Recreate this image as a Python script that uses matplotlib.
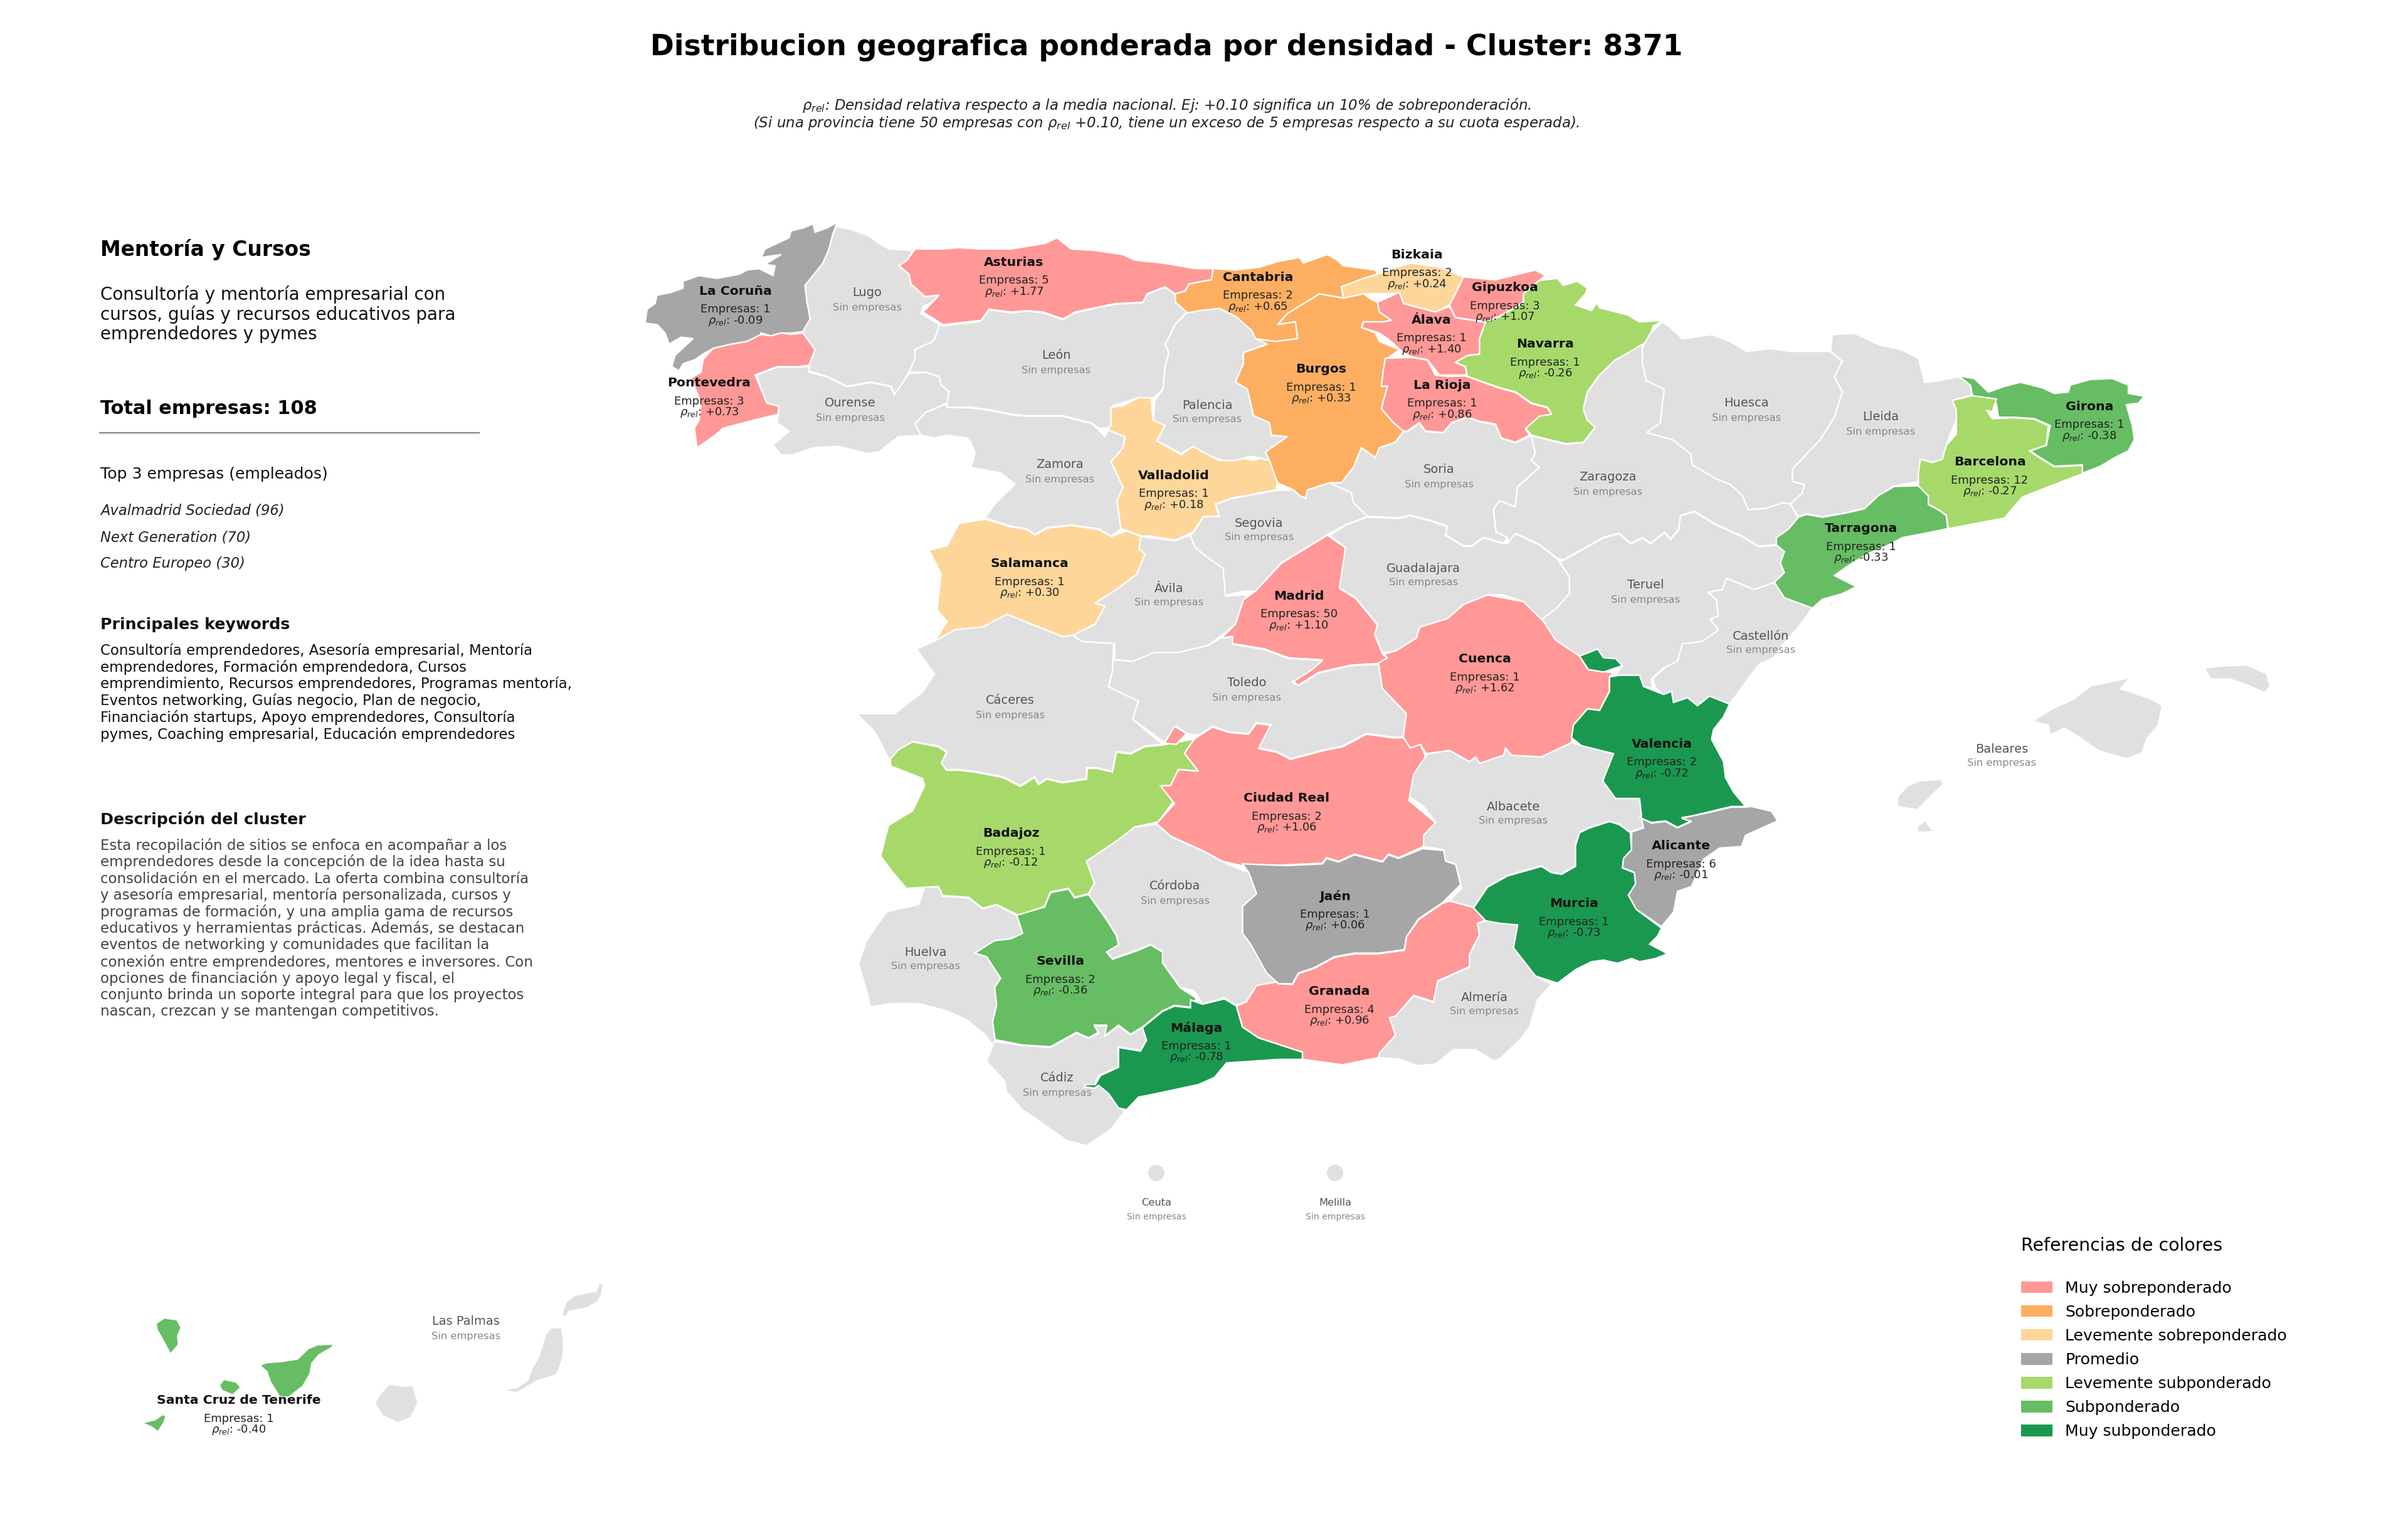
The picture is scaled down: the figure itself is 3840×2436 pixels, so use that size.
import matplotlib
matplotlib.use("Agg")
import matplotlib.pyplot as plt
from matplotlib.patches import Polygon, Circle, Patch

FRAMES = {
    "nw": (1000, 330, 1.568, 2.24),
    "n": (1900, 330, 1.568, 2.24),
    "ne": (2600, 500, 1.568, 2.24),
    "s": (1350, 1000, 1.568, 1.742),
    "se": (2200, 1000, 1.568, 1.96),
    "can": (150, 2000, 1.742, 3.0),
}

la_coruna = [(525,55),(515,95),(505,150),(490,200),(465,245),(445,280),(450,340),(458,400),(440,445),(410,450),(385,450),(360,460),(335,450),(330,470),(300,480),(260,490),(215,505),(190,525),(170,545),(140,560),(130,585),(112,570),(120,530),(135,510),(165,470),(135,465),(105,490),(95,450),(75,420),(45,415),(50,365),(70,345),(75,315),(110,305),(140,290),(140,265),(180,245),(225,255),(280,240),(300,225),(330,220),(365,245),(370,210),(345,205),(385,170),(335,180),(345,150),(405,110),(410,85),(440,75),(465,60),(470,90),(500,75)]
pontevedra = [(440,450),(470,510),(455,565),(430,570),(375,570),(320,600),(335,650),(350,700),(380,712),(378,740),(320,760),(240,790),(220,815),(175,860),(168,790),(180,760),(185,700),(160,610),(185,590),(190,545),(215,505),(260,490),(300,480),(335,455),(360,460),(385,450),(410,455)]
lugo = [(525,70),(560,80),(600,100),(630,130),(655,150),(715,155),(700,190),(680,210),(705,240),(710,275),(745,320),(780,315),(765,340),(740,355),(735,380),(780,420),(775,450),(765,480),(720,510),(720,540),(705,590),(670,670),(660,640),(610,625),(550,640),(500,605),(455,585),(455,565),(470,510),(437,450),(458,400),(450,340),(445,280),(465,245),(490,200),(505,150),(515,95)]
ourense = [(325,600),(375,572),(430,572),(455,570),(455,590),(500,607),(550,642),(610,627),(660,642),(668,670),(705,595),(745,590),(780,605),(785,635),(805,660),(800,700),(745,735),(720,775),(735,815),(680,820),(660,840),(630,875),(600,880),(555,865),(530,855),(465,860),(415,885),(385,885),(365,850),(405,800),(375,770),(380,712),(350,700),(335,650)]
asturias = [(720,150),(790,150),(830,145),(880,150),(960,150),(1045,130),(1075,110),(1110,150),(1170,155),(1240,170),(1270,190),(1340,200),(1420,220),(1465,220),(1462,260),(1440,265),(1405,275),(1395,300),(1370,310),(1345,285),(1300,310),(1290,340),(1220,345),(1170,360),(1120,375),(1090,400),(1040,375),(1000,370),(960,375),(905,365),(885,405),(790,420),(740,375),(780,315),(745,320),(710,275),(705,240),(680,210),(700,190)]
leon = [(790,425),(885,408),(905,367),(960,378),(1000,372),(1040,378),(1090,402),(1120,378),(1170,362),(1220,347),(1290,342),(1300,312),(1345,287),(1370,312),(1375,345),(1400,375),(1370,420),(1355,465),(1345,490),(1355,520),(1345,570),(1340,650),(1310,690),(1280,680),(1215,710),(1208,790),(1180,790),(1160,770),(1130,760),(1090,745),(1055,745),(1000,745),(960,740),(910,725),(860,715),(800,715),(800,700),(805,660),(785,635),(780,605),(745,590),(705,590),(720,540),(720,510),(765,480),(775,450),(780,420)]
zamora = [(800,715),(860,718),(910,727),(960,742),(1000,747),(1055,747),(1090,747),(1130,762),(1160,772),(1175,790),(1195,820),(1205,792),(1245,820),(1240,860),(1210,910),(1240,1000),(1225,1050),(1235,1150),(1210,1175),(1180,1150),(1110,1135),(1050,1145),(1020,1170),(1000,1150),(960,1140),(895,1110),(920,1060),(970,990),(935,950),(860,930),(870,880),(860,840),(850,825),(800,815),(770,825),(735,815),(720,775),(745,735),(795,705)]
valladolid = [(1310,682),(1315,760),(1345,780),(1325,835),(1385,885),(1415,855),(1450,880),(1480,905),(1530,895),(1568,905),(1600,885),(1606,895),(1626,985),(1623,1010),(1511,1040),(1471,1060),(1481,1105),(1441,1105),(1416,1160),(1370,1190),(1310,1175),(1285,1175),(1250,1155),(1235,1150),(1225,1050),(1240,1000),(1210,910),(1240,860),(1245,820),(1200,795),(1210,780),(1210,715),(1240,710),(1280,680)]
salamanca = [(895,1115),(960,1142),(1000,1152),(1020,1172),(1050,1147),(1110,1137),(1180,1152),(1210,1177),(1250,1157),(1285,1177),(1280,1220),(1295,1240),(1275,1310),(1230,1360),(1170,1415),(1195,1425),(1170,1490),(1115,1530),(1090,1535),(1010,1490),(950,1455),(890,1500),(820,1510),(780,1555),(770,1550),(800,1480),(775,1440),(785,1310),(755,1225),(800,1210),(830,1130)]
avila = [(1285,1177),(1370,1192),(1408,1172),(1420,1215),(1445,1245),(1490,1290),(1497,1390),(1540,1385),(1570,1400),(1541,1470),(1521,1490),(1486,1530),(1454,1565),(1379,1591),(1319,1591),(1269,1623),(1219,1617),(1219,1559),(1139,1552),(1114,1530),(1170,1490),(1195,1425),(1170,1415),(1230,1360),(1275,1310),(1295,1240),(1280,1220)]

palencia = [(-11,378),(20,370),(70,362),(110,390),(150,440),(160,470),(190,490),(130,520),(130,560),(110,625),(140,650),(155,745),(195,770),(200,815),(240,820),(185,875),(195,905),(150,890),(110,905),(79,905),(49,890),(4,855),(-26,880),(-86,835),(-66,780),(-96,760),(-91,690),(-71,650),(-66,570),(-56,520),(-66,490),(-56,465),(-41,420)]
segovia = [(212,1012),(100,1042),(60,1062),(70,1105),(30,1107),(5,1162),(-3,1172),(9,1215),(34,1245),(79,1290),(85,1387),(130,1372),(160,1372),(225,1270),(340,1170),(385,1135),(440,1105),(405,1055),(400,1020),(345,985),(290,1010),(285,1040),(270,1030),(255,1010)]
burgos = [(320,310),(380,325),(430,310),(450,330),(465,340),(470,375),(500,405),(480,410),(430,410),(425,430),(460,450),(470,480),(520,510),(490,540),(480,580),(475,640),(490,640),(475,720),(505,770),(530,800),(510,840),(470,860),(460,895),(425,860),(405,930),(375,985),(345,985),(290,1010),(285,1040),(270,1030),(255,1010),(215,985),(195,905),(185,875),(240,820),(200,815),(195,770),(155,745),(140,650),(110,625),(130,560),(130,520),(190,490),(160,470),(210,480),(265,470),(260,410),(215,420),(240,380),(280,345)]
cantabria = [(54,220),(110,225),(170,215),(215,195),(270,180),(280,200),(340,170),(365,190),(380,210),(460,225),(465,240),(430,255),(375,285),(380,325),(320,310),(280,345),(240,380),(215,420),(260,410),(265,470),(210,480),(160,470),(150,440),(110,390),(70,362),(20,370),(-10,378),(-40,340),(-40,310),(-16,300),(-6,275),(30,265),(50,260)]
bizkaia = [(465,240),(510,215),(550,200),(620,215),(680,250),(660,310),(645,350),(610,375),(530,345),(520,305),(490,310),(430,310),(380,325),(375,285),(430,255)]
gipuzkoa = [(680,250),(760,260),(860,225),(885,245),(870,262),(830,310),(830,340),(770,390),(735,410),(660,395),(645,350),(660,310)]
navarra = [(870,262),(915,255),(930,280),(965,265),(990,290),(985,310),(960,350),(1000,370),(1015,340),(1020,360),(1090,385),(1120,410),(1180,405),(1155,425),(1140,480),(1110,510),(1060,545),(1020,600),(990,660),(980,720),(990,760),(1010,785),(980,840),(935,845),(850,815),(835,790),(870,745),(900,740),(890,715),(850,700),(810,660),(770,645),(690,605),(685,570),(660,555),(690,530),(720,525),(720,470),(735,410),(770,392),(830,342),(830,310)]
alava = [(520,305),(530,345),(610,375),(645,355),(660,395),(735,412),(720,470),(720,525),(690,530),(660,555),(685,570),(688,600),(650,600),(620,600),(590,545),(550,535),(530,520),(490,470),(470,450),(425,430),(430,410),(480,410),(500,405),(470,375),(465,340)]
la_rioja = [(485,540),(550,537),(590,547),(610,600),(640,605),(685,603),(770,647),(810,662),(850,702),(890,717),(900,740),(870,747),(835,792),(845,815),(810,840),(775,825),(760,775),(720,765),(690,750),(650,770),(630,805),(585,800),(570,770),(540,800),(530,800),(505,770),(475,720),(490,640),(475,640),(480,580)]
soria = [(530,802),(540,802),(570,772),(585,802),(630,807),(650,772),(690,752),(720,767),(760,777),(775,827),(810,842),(850,817),(860,880),(850,905),(870,930),(815,1000),(810,1070),(770,1050),(755,1080),(762,1160),(790,1180),(780,1200),(730,1180),(700,1210),(680,1210),(635,1170),(640,1140),(600,1120),(545,1100),(520,1110),(440,1105),(405,1055),(400,1020),(345,985),(375,985),(405,930),(425,860),(460,895),(470,860),(510,840)]
zaragoza = [(850,817),(935,847),(980,842),(1010,787),(990,762),(980,722),(990,662),(1020,602),(1060,547),(1128,490),(1128,561),(1138,621),(1183,651),(1178,701),(1173,771),(1138,806),(1203,831),(1248,881),(1253,921),(1313,971),(1348,991),(1378,1031),(1393,1081),(1438,1076),(1478,1056),(1498,1061),(1513,1101),(1518,1111),(1493,1151),(1463,1181),(1463,1206),(1418,1211),(1378,1176),(1308,1131),(1258,1086),(1223,1101),(1218,1151),(1198,1186),(1183,1161),(1148,1201),(1128,1181),(1098,1201),(1070,1165),(1030,1180),(980,1220),(930,1260),(915,1255),(870,1205),(810,1165),(790,1200),(790,1180),(762,1160),(755,1080),(770,1050),(810,1070),(815,1000),(870,930),(850,905),(860,880)]
teruel = [(930,1262),(980,1222),(1030,1182),(1070,1167),(1098,1203),(1128,1183),(1148,1203),(1183,1163),(1198,1188),(1218,1153),(1223,1103),(1258,1088),(1308,1133),(1378,1178),(1418,1213),(1463,1208),(1483,1233),(1473,1273),(1483,1308),(1458,1343),(1408,1368),(1378,1348),(1338,1328),(1328,1368),(1293,1378),(1313,1403),(1318,1463),(1298,1473),(1318,1513),(1278,1553),(1240,1560),(1215,1627),(1180,1646),(1150,1686),(1153,1720),(1130,1712),(1120,1672),(1060,1672),(1077,1638),(1060,1615),(1030,1610),(1015,1581),(970,1604),(910,1547),(880,1501),(870,1480),(910,1430),(945,1380),(940,1310),(920,1265)]
guadalajara = [(385,1137),(440,1107),(520,1112),(545,1102),(600,1122),(640,1142),(635,1172),(680,1212),(700,1212),(730,1182),(780,1202),(790,1202),(810,1167),(870,1207),(915,1257),(945,1320),(945,1380),(915,1430),(870,1480),(830,1410),(780,1385),(740,1385),(680,1420),(640,1470),(570,1500),(563,1540),(513,1585),(478,1591),(458,1527),(465,1490),(410,1395),(370,1360),(385,1215),(345,1172)]
madrid = [(340,1172),(385,1217),(370,1362),(410,1397),(465,1492),(458,1527),(478,1597),(490,1610),(468,1630),(398,1636),(318,1662),(268,1707),(253,1694),(303,1649),(328,1617),(243,1610),(183,1578),(103,1559),(103,1533),(73,1540),(43,1565),(75,1540),(110,1490),(130,1402),(160,1372),(225,1272)]

huesca = [(80,30),(100,50),(130,90),(205,75),(250,100),(290,135),(350,125),(400,135),(500,135),(530,170),(510,225),(530,280),(510,370),(475,450),(405,555),(405,600),(435,610),(430,640),(400,680),(380,675),(340,695),(295,700),(280,650),(250,610),(215,590),(155,540),(150,500),(105,450),(40,425),(75,390),(80,320),(85,270),(40,240),(30,180),(30,120),(50,70)]
lleida = [(505,75),(560,70),(620,110),(680,130),(720,160),(730,210),(735,245),(770,240),(820,225),(850,255),(855,290),(805,310),(815,345),(815,380),(800,430),(790,470),(780,520),(755,530),(725,520),(720,600),(660,615),(620,650),(585,695),(540,710),(480,725),(440,715),(420,725),(400,680),(430,640),(435,610),(405,600),(405,555),(475,450),(510,370),(530,280),(510,225),(530,170),(500,135)]
girona = [(820,222),(860,232),(895,280),(935,260),(975,245),(1030,265),(1060,285),(1095,280),(1100,255),(1150,235),(1205,232),(1245,255),(1245,285),(1285,295),(1270,320),(1240,325),(1255,400),(1260,450),(1245,490),(1210,515),(1175,545),(1130,570),(1130,540),(1060,545),(1020,510),(1000,490),(1040,470),(1050,400),(1010,375),(960,370),(920,370),(915,320),(855,292),(850,255)]
barcelona = [(855,293),(915,305),(905,350),(890,345),(905,375),(960,372),(1010,377),(1045,400),(1040,470),(998,490),(1020,512),(1060,547),(1130,542),(1130,572),(1060,610),(980,655),(935,730),(795,768),(790,720),(770,700),(745,680),(745,650),(720,620),(720,570),(725,520),(755,532),(780,520),(790,470),(815,430),(815,345),(805,310)]
tarragona = [(420,727),(440,717),(480,727),(540,712),(585,697),(620,650),(660,617),(720,615),(745,652),(745,682),(775,705),(790,722),(793,768),(735,785),(680,800),(640,830),(590,860),(545,900),(510,935),(565,975),(530,1000),(480,1020),(455,1052),(385,1015),(360,960),(385,925),(375,890),(385,850),(365,825),(365,800),(395,770)]
tarragona_islet = [(488,1040),(510,1030),(505,1040)]

toledo = [(665,90),(715,95),(770,70),(830,70),(905,50),(935,30),(965,27),(965,47),(1045,62),(1105,87),(1190,92),(1165,117),(1115,152),(1130,162),(1180,127),(1260,107),(1335,102),(1340,170),(1400,240),(1392,305),(1365,305),(1300,295),(1240,330),(1195,340),(1110,365),(1075,345),(1030,335),(1060,270),(1025,265),(1005,295),(955,290),(915,275),(880,300),(850,295),(825,275),(795,320),(715,255),(730,205),(700,190),(655,165),(665,120)]
caceres = [(221,38),(271,7),(341,-1),(401,-36),(461,-9),(541,26),(565,22),(590,40),(668,45),(665,120),(655,165),(700,190),(730,205),(715,255),(790,325),(745,330),(710,350),(675,345),(665,400),(625,390),(600,390),(600,420),(540,430),(500,420),(480,435),(470,415),(435,440),(390,415),(320,400),(280,395),(250,395),(235,375),(250,345),(230,330),(165,318),(130,340),(125,365),(105,365),(85,320),(70,290),(25,240),(120,240),(190,180),(220,130),(200,100),(175,60)]
badajoz = [(165,318),(230,332),(250,347),(237,377),(250,397),(280,397),(320,402),(390,417),(435,442),(470,417),(480,437),(500,422),(540,432),(600,422),(602,392),(625,392),(665,402),(675,347),(710,352),(745,332),(790,327),(870,310),(845,350),(880,400),(830,395),(810,440),(790,440),(820,480),(780,540),(720,555),(680,590),(600,650),(620,710),(605,740),(570,750),(555,725),(510,735),(495,775),(430,800),(375,770),(340,780),(305,750),(240,745),(230,720),(150,725),(115,680),(85,635),(105,550),(165,510),(195,440),(190,420),(110,385),(110,365),(130,340)]
ciudad_real = [(870,310),(915,277),(955,292),(1005,297),(1025,267),(1060,272),(1030,337),(1075,347),(1110,367),(1195,342),(1240,332),(1300,297),(1365,307),(1392,307),(1410,335),(1435,325),(1450,365),(1420,410),(1425,440),(1405,480),(1475,545),(1445,600),(1440,610),(1380,640),(1355,630),(1340,650),(1270,630),(1230,650),(1200,640),(1190,655),(1100,660),(1000,665),(940,650),(890,620),(810,580),(775,545),(820,490),(785,440),(810,440),(830,395),(880,400),(845,350)]
ciudad_real_enclave = [(820,275),(850,295),(825,325),(795,322)]
jaen = [(990,657),(1100,662),(1190,657),(1200,642),(1230,652),(1270,632),(1340,652),(1355,632),(1380,642),(1440,615),(1495,620),(1500,650),(1525,660),(1535,715),(1490,765),(1430,810),(1400,860),(1395,895),(1330,905),(1270,905),(1220,915),(1170,945),(1130,960),(1115,990),(1080,990),(1050,960),(1010,880),(990,850),(990,775),(1025,740),(1005,680)]
cordoba = [(775,547),(812,582),(892,622),(942,652),(990,675),(1005,680),(1025,740),(990,775),(990,850),(1010,880),(1050,960),(1075,985),(1025,995),(1000,1040),(975,1050),(945,1030),(890,1045),(870,1010),(835,1000),(790,930),(790,900),(760,880),(730,895),(665,920),(650,900),(680,880),(675,855),(650,810),(605,742),(620,710),(600,650),(680,590),(720,555)]
sevilla = [(425,800),(495,777),(510,737),(555,727),(570,752),(605,742),(650,812),(675,857),(680,882),(650,902),(665,922),(730,897),(760,882),(790,902),(790,932),(835,1002),(875,1030),(860,1055),(820,1050),(790,1065),(740,1110),(710,1130),(680,1105),(645,1135),(650,1105),(620,1105),(630,1125),(605,1140),(575,1125),(510,1165),(440,1160),(370,1145),(365,1095),(375,1050),(370,1000),(385,975),(350,915),(320,905),(370,870),(410,865),(440,850),(430,815)]
huelva = [(195,722),(230,722),(240,747),(305,752),(340,782),(375,772),(425,800),(430,815),(440,850),(410,865),(370,870),(320,905),(350,915),(385,975),(370,1000),(375,1050),(365,1095),(375,1175),(345,1130),(300,1090),(250,1065),(180,1045),(110,1045),(60,1055),(50,1010),(30,935),(50,870),(100,790),(180,770)]
cadiz = [(370,1150),(440,1162),(510,1167),(575,1127),(605,1142),(630,1127),(620,1107),(650,1107),(645,1137),(680,1107),(710,1132),(740,1112),(750,1145),(735,1175),(680,1165),(680,1220),(630,1245),(620,1270),(640,1272),(670,1310),(695,1345),(660,1395),(600,1440),(550,1425),(480,1370),(440,1340),(400,1290),(395,1260),(350,1205)]
malaga = [(860,1035),(890,1047),(945,1032),(975,1052),(990,1110),(1030,1140),(1140,1180),(1140,1200),(1080,1200),(950,1210),(920,1250),(880,1270),(775,1295),(730,1305),(700,1340),(680,1335),(655,1295),(630,1272),(620,1280),(595,1276),(597,1270),(622,1270),(635,1245),(680,1222),(680,1167),(735,1177),(750,1147),(740,1112),(790,1067),(820,1052),(860,1057)]
granada = [(1080,990),(1115,992),(1130,962),(1170,947),(1220,917),(1270,907),(1330,907),(1395,897),(1400,860),(1430,812),(1490,767),(1508,760),(1568,778),(1598,813),(1578,822),(1583,853),(1558,907),(1558,942),(1478,982),(1468,1040),(1418,1022),(1373,1080),(1358,1085),(1373,1133),(1333,1182),(1330,1195),(1240,1215),(1140,1200),(1140,1180),(1030,1140),(990,1110),(975,1052),(1000,1040),(1025,995),(1075,985)]

almeria = [(265,917),(300,925),(345,930),(335,1000),(390,1090),(430,1115),(395,1165),(375,1250),(350,1290),(300,1350),(285,1355),(240,1320),(185,1320),(140,1365),(95,1370),(50,1350),(-3,1345),(0,1330),(40,1275),(25,1220),(40,1215),(85,1152),(135,1172),(145,1107),(225,1062),(225,1022),(250,962),(245,927)]
albacete = [(120,395),(175,385),(225,420),(240,405),(250,425),(310,400),(315,378),(330,400),(405,405),(480,360),(505,370),(585,395),(560,480),(590,535),(650,535),(655,590),(660,625),(625,640),(600,615),(575,607),(525,625),(500,640),(490,680),(490,745),(455,770),(430,765),(405,745),(320,775),(270,810),(235,875),(175,855),(205,815),(190,740),(165,730),(160,695),(110,685),(110,650),(140,610),(110,560),(75,530),(85,460)]
cuenca = [(100,0),(170,-27),(210,-71),(270,-101),(360,-80),(410,-18),(440,40),(500,90),(520,130),(585,143),(575,155),(575,200),(550,260),(520,255),(485,305),(480,360),(405,405),(330,400),(315,378),(310,400),(250,425),(240,405),(225,420),(175,385),(117,395),(102,366),(77,377),(59,343),(67,270),(7,191),(-3,112),(19,96),(12,84),(42,73),(92,34)]
castellon = [(1082,-60),(1012,-92),(987,-140),(937,-118),(867,-153),(857,-118),(822,-109),(842,-87),(847,-35),(827,-26),(847,9),(807,44),(757,52),(745,105),(715,125),(683,160),(690,190),(710,210),(730,200),(735,235),(770,220),(795,245),(825,215),(875,240),(905,190),(940,130),(950,115),(985,95),(997,70),(1047,0)]
valencia = [(575,155),(600,150),(650,150),(660,185),(680,195),(710,210),(730,200),(735,235),(770,220),(795,245),(825,215),(875,240),(860,280),(835,320),(830,350),(860,420),(865,470),(885,515),(915,560),(880,560),(830,575),(780,590),(755,595),(780,605),(745,625),(715,605),(680,610),(650,595),(655,590),(650,535),(590,535),(558,480),(585,395),(505,370),(480,345),(485,305),(520,255),(550,260),(575,200)]
valencia_rincon = [(500,90),(545,68),(560,95),(590,98),(607,120),(560,140),(522,132)]
alicante = [(655,597),(680,612),(715,607),(745,627),(780,607),(755,597),(780,590),(830,577),(880,562),(915,562),(930,560),(980,575),(995,605),(960,625),(915,650),(905,685),(850,690),(810,725),(780,810),(745,825),(735,890),(705,935),(640,880),(622,835),(640,800),(635,765),(605,750),(610,720),(630,695),(630,640),(660,627)]
murcia = [(575,607),(600,617),(627,642),(630,695),(610,722),(607,752),(637,767),(640,802),(622,837),(642,882),(705,940),(695,965),(675,990),(720,1020),(690,1035),(650,1045),(630,1035),(595,1050),(560,1040),(530,1045),(490,1070),(445,1112),(390,1090),(335,1002),(345,930),(300,925),(265,917),(235,877),(270,812),(320,777),(405,747),(430,767),(455,772),(490,747),(490,682),(500,642),(525,627)]

mallorca = [(1005,1455),(1050,1415),(1110,1375),(1150,1330),(1215,1310),(1250,1300),(1225,1340),(1250,1350),(1300,1375),(1330,1400),(1320,1470),(1290,1520),(1280,1568),(1240,1590),(1170,1560),(1120,1510),(1085,1480),(1050,1505),(1045,1470)]
menorca = [(1435,1265),(1480,1258),(1540,1255),(1590,1285),(1600,1330),(1587,1354),(1540,1325),(1500,1305),(1450,1305)]
ibiza = [(1295,530),(1320,495),(1350,480),(1405,475),(1410,490),(1385,520),(1345,570),(1295,560)]
formentera = [(1345,640),(1345,620),(1365,605),(1380,630),(1400,635),(1370,640)]

la_palma = [(172,330),(195,303),(230,312),(242,350),(232,390),(235,430),(212,477),(195,420),(175,360)]
tenerife = [(460,530),(480,517),(520,512),(565,500),(595,450),(620,432),(665,428),(660,445),(625,480),(605,520),(600,570),(580,630),(540,683),(515,680),(490,610),(480,560)]
la_gomera = [(348,625),(360,597),(395,610),(408,635),(385,672),(355,650)]
el_hierro = [(133,805),(170,790),(190,765),(200,770),(195,800),(178,848),(160,825)]
gran_canaria = [(780,710),(795,665),(820,620),(865,630),(885,625),(900,710),(880,780),(845,805),(800,770)]
fuerteventura = [(1135,648),(1175,635),(1205,600),(1215,550),(1235,490),(1255,380),(1270,350),(1300,350),(1305,440),(1300,510),(1285,575),(1230,605),(1175,662)]
lanzarote = [(1298,290),(1312,225),(1335,195),(1395,175),(1403,135),(1415,140),(1410,190),(1400,225),(1370,255),(1320,272),(1310,298)]

# category: 0 muy sobre ... 6 muy sub, None sin empresas
NAMES = ["La Coruña", "Lugo", "Pontevedra", "Ourense", "Asturias", "León", "Zamora", "Valladolid", "Salamanca", "Ávila",
         "Palencia", "Segovia", "Burgos", "Cantabria", "Bizkaia", "Gipuzkoa", "Navarra", "Álava", "La Rioja", "Soria",
         "Zaragoza", "Teruel", "Guadalajara", "Madrid", "Huesca", "Lleida", "Girona", "Barcelona", "Tarragona",
         "Toledo", "Cáceres", "Badajoz", "Ciudad Real", "Jaén", "Córdoba", "Sevilla", "Huelva", "Cádiz", "Málaga", "Granada",
         "Almería", "Albacete", "Cuenca", "Castellón", "Valencia", "Alicante", "Murcia", "Baleares",
         "Santa Cruz de Tenerife", "Las Palmas"]
EMPRESAS = [1, None, 3, None, 5, None, None, 1, 1, None,
            None, None, 1, 2, 2, 3, 1, 1, 1, None,
            None, None, None, 50, None, None, 1, 12, 1,
            None, None, 1, 2, 1, None, 2, None, None, 1, 4,
            None, None, 1, None, 2, 6, 1, None,
            1, None]
RHO = [-0.09, None, 0.73, None, 1.77, None, None, 0.18, 0.30, None,
       None, None, 0.33, 0.65, 0.24, 1.07, -0.26, 1.40, 0.86, None,
       None, None, None, 1.10, None, None, -0.38, -0.27, -0.33,
       None, None, -0.12, 1.06, 0.06, None, -0.36, None, None, -0.78, 0.96,
       None, None, 1.62, None, -0.72, -0.01, -0.73, None,
       -0.40, None]
CATEGORY = [3, None, 0, None, 0, None, None, 2, 2, None,
            None, None, 1, 1, 2, 0, 4, 0, 0, None,
            None, None, None, 0, None, None, 5, 4, 5,
            None, None, 4, 0, 3, None, 5, None, None, 6, 0,
            None, None, 0, None, 6, 3, 6, None,
            5, None]
LABEL_X = [1173, 1383, 1131, 1356, 1617, 1684, 1690, 1872, 1642, 1864,
           1925, 2008, 2107, 2006, 2260, 2400, 2464, 2283, 2300, 2295,
           2564, 2624, 2270, 2071, 2785, 2999, 3332, 3173, 2968,
           1988, 1611, 1612, 2052, 2129, 1874, 1691, 1476, 1686, 1908, 2136,
           2367, 2413, 2368, 2808, 2650, 2681, 2510, 3192,
           381, 743]
LABEL_Y = [464, 467, 611, 643, 418, 567, 741, 758, 899, 938,
           646, 834, 589, 442, 406, 459, 549, 510, 614, 749,
           761, 933, 906, 950, 643, 665, 648, 737, 843,
           1089, 1117, 1329, 1273, 1429, 1413, 1533, 1518, 1719, 1639, 1581,
           1590, 1286, 1051, 1014, 1186, 1349, 1441, 1194,
           2233, 2107]

OUTLINES = [
    [("nw", la_coruna)], [("nw", lugo)], [("nw", pontevedra)], [("nw", ourense)], [("nw", asturias)],
    [("nw", leon)], [("nw", zamora)], [("nw", valladolid)], [("nw", salamanca)], [("nw", avila)],
    [("n", palencia)], [("n", segovia)], [("n", burgos)], [("n", cantabria)], [("n", bizkaia)],
    [("n", gipuzkoa)], [("n", navarra)], [("n", alava)], [("n", la_rioja)], [("n", soria)],
    [("n", zaragoza)], [("n", teruel)], [("n", guadalajara)], [("n", madrid)],
    [("ne", huesca)], [("ne", lleida)], [("ne", girona)], [("ne", barcelona)], [("ne", tarragona), ("ne", tarragona_islet)],
    [("s", toledo)], [("s", caceres)], [("s", badajoz)], [("s", ciudad_real), ("s", ciudad_real_enclave)],
    [("s", jaen)], [("s", cordoba)], [("s", sevilla)], [("s", huelva)], [("s", cadiz)], [("s", malaga)], [("s", granada)],
    [("se", almeria)], [("se", albacete)], [("se", cuenca)], [("se", castellon)],
    [("se", valencia), ("se", valencia_rincon)], [("se", alicante)], [("se", murcia)],
    [("ne", mallorca), ("ne", menorca), ("se", ibiza), ("se", formentera)],
    [("can", la_palma), ("can", tenerife), ("can", la_gomera), ("can", el_hierro)],
    [("can", gran_canaria), ("can", fuerteventura), ("can", lanzarote)],
]

CITY_NAMES = ["Ceuta", "Melilla"]
CITY_X = [1844, 2129]
CITY_Y = [1870, 1870]

LEGEND_LABELS = ["Muy sobreponderado", "Sobreponderado", "Levemente sobreponderado", "Promedio",
                 "Levemente subponderado", "Subponderado", "Muy subponderado"]
COLORS = ["#ff9896", "#fdae61", "#fed69a", "#a6a6a6", "#a6d96a", "#66bd63", "#1a9850"]
NO_DATA = "#e0e0e0"

TITLE = "Distribucion geografica ponderada por densidad - Cluster: 8371"
NOTE = [r"$\rho_{rel}$: Densidad relativa respecto a la media nacional. Ej: +0.10 significa un 10% de sobreponderación.",
        r"(Si una provincia tiene 50 empresas con $\rho_{rel}$ +0.10, tiene un exceso de 5 empresas respecto a su cuota esperada)."]
SUMMARY = ["Consultoría y mentoría empresarial con", "cursos, guías y recursos educativos para", "emprendedores y pymes"]
TOP3 = ["Avalmadrid Sociedad (96)", "Next Generation (70)", "Centro Europeo (30)"]
KEYWORDS = ["Consultoría emprendedores, Asesoría empresarial, Mentoría",
            "emprendedores, Formación emprendedora, Cursos",
            "emprendimiento, Recursos emprendedores, Programas mentoría,",
            "Eventos networking, Guías negocio, Plan de negocio,",
            "Financiación startups, Apoyo emprendedores, Consultoría",
            "pymes, Coaching empresarial, Educación emprendedores"]
DESCRIPTION = ["Esta recopilación de sitios se enfoca en acompañar a los",
               "emprendedores desde la concepción de la idea hasta su",
               "consolidación en el mercado. La oferta combina consultoría",
               "y asesoría empresarial, mentoría personalizada, cursos y",
               "programas de formación, y una amplia gama de recursos",
               "educativos y herramientas prácticas. Además, se destacan",
               "eventos de networking y comunidades que facilitan la",
               "conexión entre emprendedores, mentores e inversores. Con",
               "opciones de financiación y apoyo legal y fiscal, el",
               "conjunto brinda un soporte integral para que los proyectos",
               "nascan, crezcan y se mantengan competitivos."]


def to_pixels(frame, points):
    x0, y0, sx, sy = FRAMES[frame]
    return [(x0 + x / sx, y0 + y / sy) for x, y in points]


fig = plt.figure(figsize=(16, 10.15), dpi=240)
ax = fig.add_axes([0, 0, 1, 1])
ax.set_xlim(0, 3840)
ax.set_ylim(2436, 0)
ax.axis("off")

# --- Map ---
for rings, cat in zip(OUTLINES, CATEGORY):
    color = NO_DATA if cat is None else COLORS[cat]
    for frame, points in rings:
        ax.add_patch(Polygon(to_pixels(frame, points), closed=True, facecolor=color,
                             edgecolor="white", linewidth=0.7, zorder=2))

for x, y in zip(CITY_X, CITY_Y):
    ax.add_patch(Circle((x, y), 13, facecolor=NO_DATA, edgecolor="none", zorder=2))

for name, n, rho, x, y in zip(NAMES, EMPRESAS, RHO, LABEL_X, LABEL_Y):
    if n is None:
        ax.text(x, y, name, fontsize=5.8, color="#555555", ha="center", va="center", zorder=3)
        ax.text(x, y + 23, "Sin empresas", fontsize=4.9, color="#888888", ha="center", va="center", zorder=3)
    else:
        ax.text(x, y, name, fontsize=6.1, fontweight="bold", color="#111111", ha="center", va="center", zorder=3)
        ax.text(x, y + 29, f"Empresas: {n}", fontsize=5.4, color="#222222", ha="center", va="center", zorder=3)
        ax.text(x, y + 47, rf"$\rho_{{rel}}$: {rho:+.2f}", fontsize=5.4, color="#222222", ha="center", va="center", zorder=3)

for name, x, y in zip(CITY_NAMES, CITY_X, CITY_Y):
    ax.text(x, y + 48, name, fontsize=4.9, color="#555555", ha="center", va="center", zorder=3)
    ax.text(x, y + 70, "Sin empresas", fontsize=4.2, color="#888888", ha="center", va="center", zorder=3)

# --- Titles ---
ax.text(1860, 75, TITLE, fontsize=13.7, fontweight="bold", ha="center", va="center")
for line, y in zip(NOTE, [168, 197]):
    ax.text(1860, y, line, fontsize=6.85, style="italic", color="#222222", ha="center", va="center")

# --- Left panel ---
ax.text(160, 398, "Mentoría y Cursos", fontsize=9.85, fontweight="bold", va="center")
for i, line in enumerate(SUMMARY):
    ax.text(160, 469 + i * 32, line, fontsize=8.33, color="#111111", va="center")
ax.text(160, 651, "Total empresas: 108", fontsize=9.1, fontweight="bold", va="center")
ax.plot([159, 764], [690, 690], color="#888888", lw=0.7)
ax.text(160, 756, "Top 3 empresas (empleados)", fontsize=7.55, color="#111111", va="center")
for line, y in zip(TOP3, [814, 857, 899]):
    ax.text(160, y, line, fontsize=6.8, style="italic", color="#222222", va="center")
ax.text(160, 996, "Principales keywords", fontsize=7.57, fontweight="bold", color="#111111", va="center")
for i, line in enumerate(KEYWORDS):
    ax.text(160, 1037 + i * 26.8, line, fontsize=6.85, color="#111111", va="center")
ax.text(160, 1306, "Descripción del cluster", fontsize=7.6, fontweight="bold", color="#111111", va="center")
for i, line in enumerate(DESCRIPTION):
    ax.text(160, 1348 + i * 26.5, line, fontsize=6.85, color="#444444", va="center")

# --- Legend ---
handles = [Patch(facecolor=c, edgecolor="none") for c in COLORS]
leg = ax.legend(handles, LEGEND_LABELS, title="Referencias de colores", loc="lower left",
                bbox_to_anchor=(3210 / 3840, 1 - 2307 / 2436), frameon=False, fontsize=7.55,
                title_fontsize=8.5, alignment="left", labelspacing=0.56, handlelength=2.0,
                handleheight=0.75, handletextpad=0.8, borderpad=0)
leg._legend_box.sep = 12.5

fig.savefig("out.png", dpi=240, facecolor="white")
